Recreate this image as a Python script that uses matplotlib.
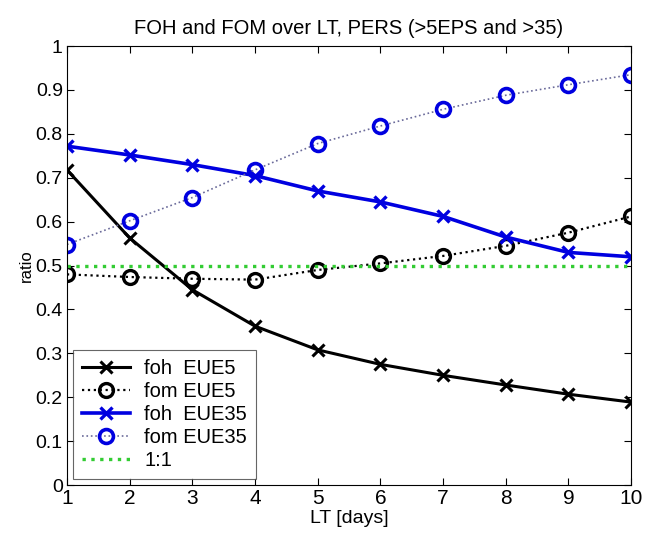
import matplotlib
matplotlib.use("Agg")
import matplotlib.pyplot as plt

plt.rcParams['font.family'] = ['Liberation Sans', 'DejaVu Sans']

lead_days = [1, 2, 3, 4, 5, 6, 7, 8, 9, 10]
foh_eue5 = [0.718, 0.563, 0.445, 0.362, 0.308, 0.275, 0.250, 0.228, 0.207, 0.189]
fom_eue5 = [0.480, 0.474, 0.470, 0.468, 0.490, 0.505, 0.522, 0.545, 0.575, 0.612]
foh_eue35 = [0.772, 0.752, 0.730, 0.705, 0.670, 0.645, 0.612, 0.565, 0.530, 0.520]
fom_eue35 = [0.548, 0.602, 0.655, 0.718, 0.778, 0.818, 0.856, 0.888, 0.912, 0.935]
ref_x = [1, 10]
ref_y = [0.5, 0.5]

fig = plt.figure(figsize=(6.5, 5.36), dpi=100)
ax = fig.add_axes([0.103, 0.095, 0.868, 0.819])

ax.plot(lead_days, foh_eue5, '-x', color='black', lw=2.2, ms=9, mew=2.2, label='foh  EUE5')
ax.plot(lead_days, fom_eue5, ':o', color='black', lw=1.6, ms=10, mew=2.4,
        mfc='none', label='fom EUE5')
ax.plot(lead_days, foh_eue35, '-x', color='#0000e0', lw=2.6, ms=9, mew=2.4, label='foh  EUE35')
# thin grey-blue dots between strong blue circles
ax.plot(lead_days, fom_eue35, ':o', color='#6a6a9a', mec='#0000e0', lw=1.2, ms=10, mew=2.6,
        mfc='none', label='fom EUE35')
ax.plot(ref_x, ref_y, ':', color='#33cc33', lw=2.4, label='1:1')

ax.set_xlim(1, 10)
ax.set_ylim(0, 1)
ax.set_xticks(lead_days)
ax.set_yticks([i / 10 for i in range(11)])
ax.set_yticklabels(['0'] + ['0.%d' % i for i in range(1, 10)] + ['1'])
ax.tick_params(direction='in', top=True, right=True, length=5, labelsize=14, width=0.8)
ax.tick_params(axis='x', labelsize=15, pad=3)
ax.tick_params(axis='y', pad=3)

ax.set_xlabel('LT [days]', fontsize=14, labelpad=1)
ax.set_ylabel('ratio', fontsize=12, labelpad=1)
ax.set_title('FOH and FOM over LT, PERS (>5EPS and >35)', fontsize=14.5, pad=9)

leg = ax.legend(loc='lower left', fontsize=14.5, frameon=True, fancybox=False,
                edgecolor='#404040', borderaxespad=0.3, handlelength=2.4,
                labelspacing=0.2, borderpad=0.45, numpoints=1, handletextpad=0.7)
leg.get_frame().set_linewidth(0.8)

fig.savefig('out.png', dpi=100)
